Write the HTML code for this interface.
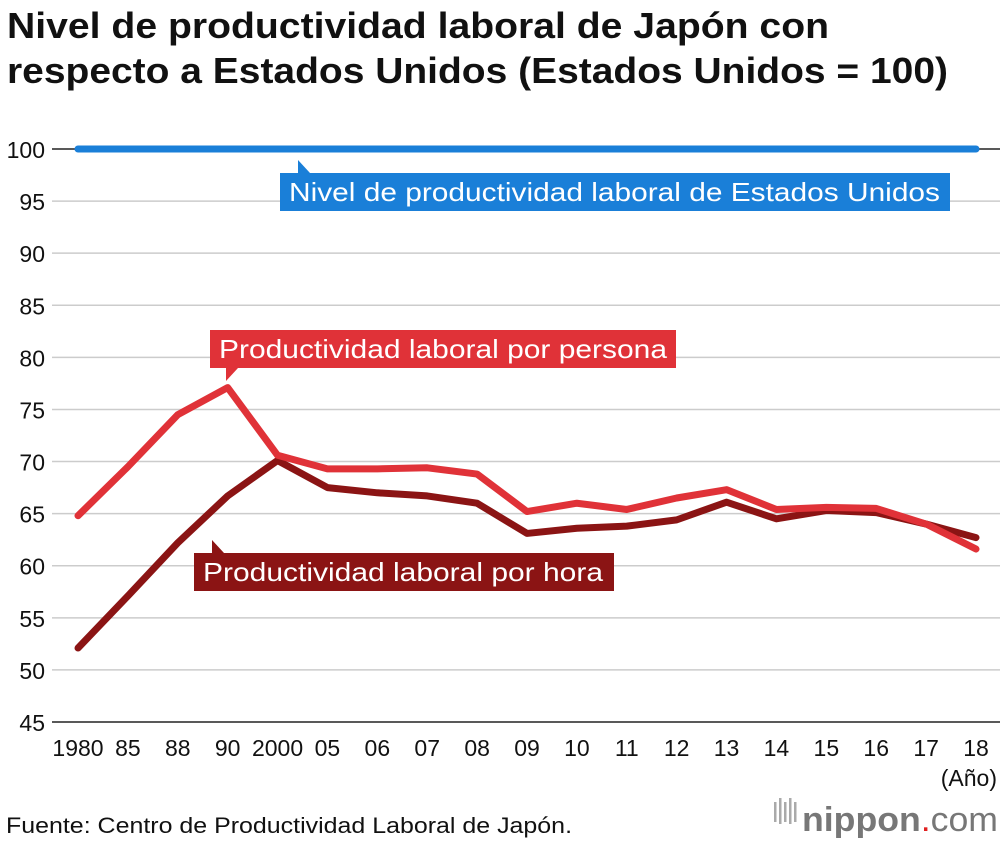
<!DOCTYPE html>
<html><head><meta charset="utf-8"><style>
body{margin:0;background:#fff;font-family:"Liberation Sans",Arial,sans-serif;}
#wrap{position:relative;width:1000px;height:842px;overflow:hidden;}
</style></head><body>
<div id="wrap">
<svg id="chart" width="1000" height="842" style="position:absolute;left:0;top:0">
<text x="7" y="38" font-size="36" font-weight="bold" fill="#111" textLength="822" lengthAdjust="spacingAndGlyphs">Nivel de productividad laboral de Japón con</text>
<text x="7" y="83" font-size="36" font-weight="bold" fill="#111" textLength="941" lengthAdjust="spacingAndGlyphs">respecto a Estados Unidos (Estados Unidos = 100)</text>
</svg>
</div>
<script>
const categories=["1980","85","88","90","2000","05","06","07","08","09","10","11","12","13","14","15","16","17","18"];
const perPerson=[64.8,69.5,74.5,77.1,70.6,69.3,69.3,69.4,68.8,65.2,66.0,65.4,66.5,67.3,65.4,65.6,65.5,64.0,61.6];
const perHour=[52.1,57.1,62.2,66.7,70.1,67.5,67.0,66.7,66.0,63.1,63.6,63.8,64.4,66.1,64.5,65.3,65.1,64.0,62.7];
const usLevel=[100,100,100,100,100,100,100,100,100,100,100,100,100,100,100,100,100,100,100];
const yTicks=[45,50,55,60,65,70,75,80,85,90,95,100];
const NS="http://www.w3.org/2000/svg";
const svg=document.getElementById('chart');
function y(v){return 722-(v-45)*(573/55);}
function x(i){return 78+i*(898/18);}
function el(t,a,p){const e=document.createElementNS(NS,t);for(const k in a)e.setAttribute(k,a[k]);(p||svg).appendChild(e);return e;}
yTicks.forEach(v=>{
 const g=el('line',{x1:52,x2:1000,y1:y(v),y2:y(v),stroke:v===45||v===100?'#222':'#ccc','stroke-width':1.5});
 
 
 const t=el('text',{x:45,y:y(v)+9,'text-anchor':'end','font-size':23,fill:'#111'});t.textContent=v;
 
 
});
categories.forEach((c,i)=>{
 const t=el('text',{x:x(i),y:756,'text-anchor':'middle','font-size':23,fill:'#111'});t.textContent=c;
 
 
});
const unit=el('text',{x:997,y:786,'text-anchor':'end','font-size':23,fill:'#111'});unit.textContent='(Año)';


function line(vals,col,name){
 const p=el('polyline',{points:vals.map((v,i)=>x(i)+','+y(v)).join(' '),fill:'none',stroke:col,'stroke-width':7,'stroke-linejoin':'round','stroke-linecap':'round'});
 
 
}
line(usLevel,'#1a7fd8','line-us');
line(perHour,'#8b1414','line-per-hour');
line(perPerson,'#e03238','line-per-person');
function label(x0,y0,w,h,col,txt,tl,tri,name){
 const g=el('g',{});
 
 
 el('rect',{x:x0,y:y0,width:w,height:h,fill:col},g);
 el('polygon',{points:tri,fill:col},g);
 const t=el('text',{x:x0+9,y:y0+h-10,'font-size':26,fill:'#fff',textLength:tl,lengthAdjust:'spacingAndGlyphs'},g);t.textContent=txt;
}
label(280,173,670,38,'#1a7fd8','Nivel de productividad laboral de Estados Unidos',651,'298,173 298,160 310,173','legend-us');
label(210,330,466,38,'#e03238','Productividad laboral por persona',448,'226,368 226,381 238,368','legend-per-person');
label(194,553,420,38,'#8b1414','Productividad laboral por hora',400,'212,553 212,540 224,553','legend-per-hour');
const src=el('text',{x:6,y:833,'font-size':22,fill:'#111',textLength:566,lengthAdjust:'spacingAndGlyphs'});src.textContent='Fuente: Centro de Productividad Laboral de Japón.';


const lg=el('g',{});


[0,5,10,15,20].forEach((d,i)=>el('rect',{x:774+d,y:812-(i%2?14:10),width:2.5,height:i%2?26:20,fill:'#aaa'},lg));
const lt=el('text',{x:802,y:831,'font-size':34,fill:'#777',textLength:196,lengthAdjust:'spacingAndGlyphs'},lg);
lt.innerHTML='<tspan font-weight="bold">nippon</tspan><tspan fill="#e02020">.</tspan><tspan>com</tspan>';
</script>
</body></html>
